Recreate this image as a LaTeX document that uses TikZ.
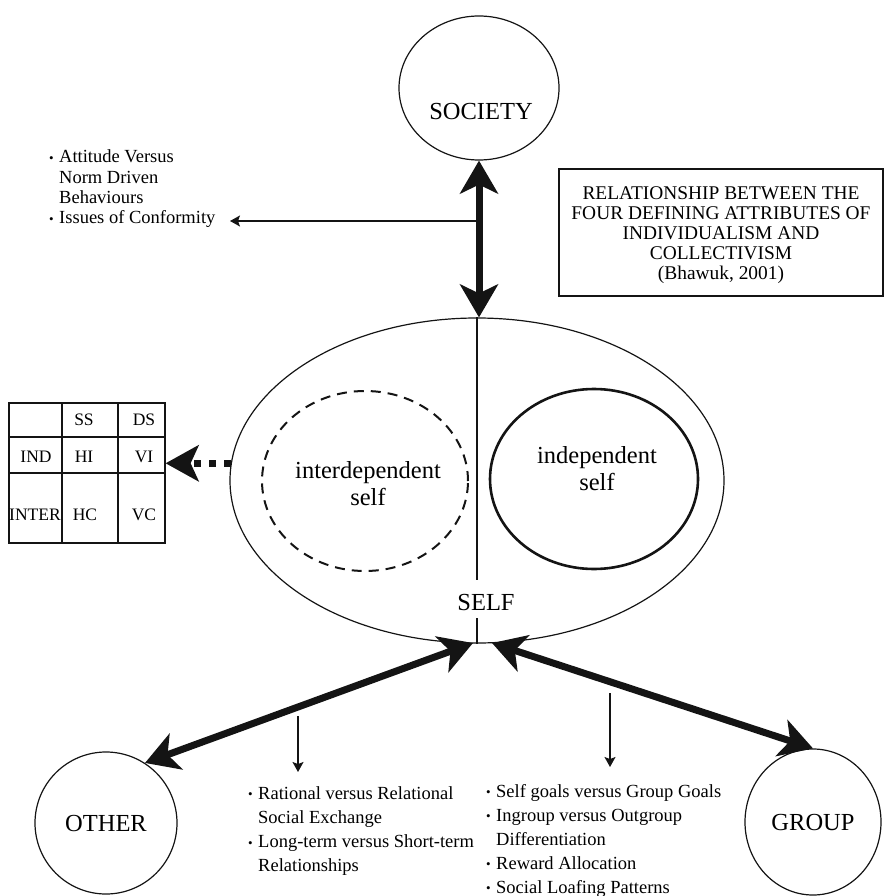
\documentclass[tikz,border=0pt]{standalone}
\usepackage{fontspec}
\setmainfont{Liberation Serif}
\usetikzlibrary{arrows.meta,shapes.geometric}

% small raised bullet with a fixed hanging indent
\newcommand{\bul}{\makebox[10pt][l]{\raisebox{0.6pt}{\fontsize{13}{13}\selectfont\textbullet}}}

\begin{document}
\begin{tikzpicture}[x=1pt,y=-1pt,
  every node/.style={inner sep=0pt},
  ink/.style={draw=black!92},
  ring/.style={ink, line width=1.2pt},
  bigtext/.style={font=\fontsize{24.5}{27}\selectfont},
  listtext/.style={anchor=base west},
  celltext/.style={font=\fontsize{17.5}{18}\selectfont},
  bigarrow/.style={ink, line width=7pt,
    {Stealth[length=33pt,width=38pt,inset=9pt]}-{Stealth[length=33pt,width=38pt,inset=9pt]}},
  thinarrow/.style={ink, line width=1.2pt, -{Stealth[length=10pt,width=11pt,inset=2pt]}},
]
\useasboundingbox (0,0) rectangle (888,896);

% ---- SOCIETY ----
\node[ellipse, ring, minimum width=160pt, minimum height=144pt] (society) at (479,88) {};
\node[bigtext] (societytext) at (481,112) {SOCIETY};

% ---- SELF with its two inner selves ----
\node[ellipse, ring, minimum width=494pt, minimum height=325pt] (self) at (477,480.5) {};
\node[bigtext] (selftext) at (486,603) {SELF};
\coordinate (gapT) at (477,580);
\coordinate (gapB) at (477,618);
\draw[ink, line width=1.2pt] (self.north) -- (gapT);
\draw[ink, line width=1.2pt] (gapB) -- (self.south);

\node[ellipse, ink, line width=2pt, dash pattern=on 10pt off 7pt,
      minimum width=206pt, minimum height=180pt] (inter) at (365,481) {};
\node[bigtext, align=center] (intertext) at (368,484) {interdependent\\self};

\node[ellipse, ink, line width=2.6pt, minimum width=208pt, minimum height=180pt] (indep) at (594,479) {};
\node[bigtext, align=center] (indeptext) at (597,469) {independent\\self};

% ---- OTHER and GROUP ----
\node[circle, ring, minimum size=142pt, bigtext] (other) at (106,823) {OTHER};
\node[ellipse, ring, minimum width=136pt, minimum height=146pt, bigtext] (group) at (813,822) {GROUP};

% ---- title box ----
\node[ring, minimum width=324pt, minimum height=127pt] (title) at (721,232.5) {};
\node[align=center, font=\fontsize{19.4}{20}\selectfont] (titletext) at (721,235.5)
  {RELATIONSHIP BETWEEN THE\\FOUR DEFINING ATTRIBUTES OF\\INDIVIDUALISM AND\\COLLECTIVISM\\(Bhawuk, 2001)};

% ---- cultural pattern grid ----
\node[ring, minimum width=156pt, minimum height=140pt] (grid) at (87,473) {};
\draw[ink, line width=1.2pt] (62,403) -- (62,543) (118,403) -- (118,543)
  (9,437) -- (165,437) (9,473) -- (165,473);
\node[celltext] (ss) at (84,420) {SS};
\node[celltext] (ds) at (144,420) {DS};
\node[celltext] (ind) at (36,457) {IND};
\node[celltext] (hi) at (84,457) {HI};
\node[celltext] (vi) at (144,457) {VI};
\node[celltext] (interrow) at (35,515) {INTER};
\node[celltext] (hc) at (85,515) {HC};
\node[celltext] (vc) at (144,515) {VC};

% ---- bullet lists ----
\node[listtext, font=\fontsize{18.5}{20.3}\selectfont] (norms) at (49,163)
  {\begin{tabular}[t]{@{}l@{}l@{}}
   \bul & Attitude Versus\\
        & Norm Driven\\
        & Behaviours\\
   \bul & Issues of Conformity
   \end{tabular}};
\node[listtext, font=\fontsize{18.5}{24.3}\selectfont] (exchange) at (248,799)
  {\begin{tabular}[t]{@{}l@{}l@{}}
   \bul & Rational versus Relational\\
        & Social Exchange\\
   \bul & Long-term versus Short-term\\
        & Relationships
   \end{tabular}};
\node[listtext, font=\fontsize{18.5}{24}\selectfont] (groupgoals) at (486,797)
  {\begin{tabular}[t]{@{}l@{}l@{}}
   \bul & Self goals versus Group Goals\\
   \bul & Ingroup versus Outgroup\\
        & Differentiation\\
   \bul & Reward Allocation\\
   \bul & Social Loafing Patterns
   \end{tabular}};

% ---- connectors ----
\draw[bigarrow] (society.south) -- (society.south |- self.north);

\coordinate (selfL) at (473,643);
\coordinate (selfR) at (492,643);
\draw[bigarrow] (other.57) -- (selfL);
\draw[bigarrow] (selfR) -- (group.north);

\draw[ink, line width=7pt, dash pattern=on 7pt off 8pt,
      -{Stealth[length=33pt,width=36pt,inset=8pt]}] (self.176) -- (grid.east |- self.176);

\coordinate (confFrom) at (479,221);
\coordinate (confTo) at (230,221);
\draw[thinarrow] (confFrom) -- (confTo);

\coordinate (exFrom) at (298,716);
\coordinate (exTo) at (298,772);
\draw[thinarrow] (exFrom) -- (exTo);

\coordinate (ggFrom) at (610,693);
\coordinate (ggTo) at (610,767);
\draw[thinarrow] (ggFrom) -- (ggTo);
\end{tikzpicture}
\end{document}
